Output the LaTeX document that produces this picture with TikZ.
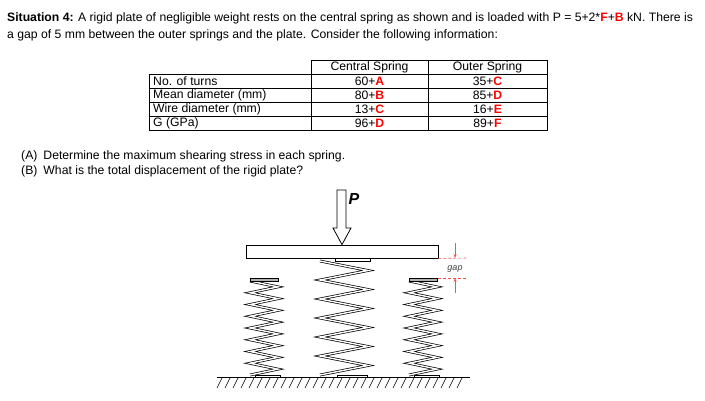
\documentclass[tikz,border=0pt]{standalone}
\usepackage{fontspec}
\setmainfont{Liberation Sans}
\usetikzlibrary{arrows.meta}
\newcommand{\rd}[1]{\textcolor{red}{\textbf{#1}}}
% zigzag spring: xleft, xright, ytop, ybottom, coils
\newcommand{\coil}[5]{%
  \pgfmathsetmacro{\dy}{(#4-#3)/(2*#5)}
  \draw[double, double distance=1.4pt, line width=0.7pt] (#1,#3)
    \foreach \k in {1,...,#5}{ -- (#2,{#3+\dy*(2*\k-1)}) -- (#1,{#3+\dy*2*\k}) };
}
\begin{document}
\begin{tikzpicture}[x=1pt, y=-1pt, font=\fontsize{12.2}{14}\selectfont,
  cell/.style={anchor=west, inner sep=0pt},
  num/.style={inner sep=0pt},
  gapline/.style={red!70, densely dashed, line width=0.6pt}]
\useasboundingbox (0,0) rectangle (705,400);
% statement
\node[cell] (s1) at (7,18) {\textbf{Situation 4:} A rigid plate of negligible weight rests on the central spring as shown and is loaded with P = 5+2*\rd{F}+\rd{B} kN. There is};
\node[cell] (s2) at (7,35) {a gap of 5 mm between the outer springs and the plate. Consider the following information:};
% table
\draw[line width=0.7pt] (311,60) rectangle (547,74);
\draw[line width=0.7pt] (428,60) -- (428,74);
\foreach \y in {74,88,102,116}
  \draw[line width=0.7pt] (149,\y) rectangle (547,\y+14);
\foreach \x in {311,428}
  \draw[line width=0.7pt] (\x,74) -- (\x,130);
\node[num] (hc) at (369.5,67) {Central Spring};
\node[num] (ho) at (487.5,67) {Outer Spring};
\foreach \y/\lab/\c/\o in {81/No. of turns/60+\rd{A}/35+\rd{C},
    95/Mean diameter (mm)/80+\rd{B}/85+\rd{D},
    109/Wire diameter (mm)/13+\rd{C}/16+\rd{E},
    123/G (GPa)/96+\rd{D}/89+\rd{F}}{
  \node[cell] at (153,\y) {\lab};
  \node[num] at (369.5,\y) {\c};
  \node[num] at (487.5,\y) {\o};
}
% questions
\node[cell] (qa) at (21,156) {(A)\hspace{6pt}Determine the maximum shearing stress in each spring.};
\node[cell] (qb) at (21,171) {(B)\hspace{6pt}What is the total displacement of the rigid plate?};
% ground
\draw[line width=0.9pt] (217,377) -- (470,377);
\foreach \x in {222,230,...,466}
  \draw[line width=0.6pt] (\x,378) -- (\x-5,388);
% springs
\coil{320}{368}{261}{375}{6}
\coil{250}{278}{281}{375}{8}
\coil{409}{437}{281}{375}{8}
\foreach \x/\w in {250/28,409/28}
  \fill[gray!60, draw=black, line width=0.5pt] (\x,278.5) rectangle +(\w,2.5);
\draw[line width=0.5pt] (335,258) rectangle (370,261);
\foreach \x/\w in {337/30,255/25,414/25}
  \draw[line width=0.5pt] (\x,375) rectangle +(\w,2);
% plate and load
\node[draw, line width=0.9pt, fill=white, minimum width=192pt, minimum height=13pt, inner sep=0pt] (plate) at (342,251.5) {};
\draw[line width=0.8pt] (337,190) -- (346,190) -- (346,228) -- (351,228) -- (plate.north) -- (333,228) -- (337,228) -- cycle;
\node[font=\fontsize{16}{18}\selectfont\bfseries\itshape, inner sep=0pt] (P) at (354,199) {P};
% gap
\draw[gapline] (plate.south east) -- (467,258);
\draw[gapline] (438,278) -- (467,278);
\draw[red!70, line width=0.6pt, -{Stealth[length=4pt,width=3pt]}] (455,243) -- (455,258);
\draw[red!70, line width=0.6pt, -{Stealth[length=4pt,width=3pt]}] (455,293) -- (455,278);
\node[font=\fontsize{9}{10}\selectfont\itshape, text=black!75, inner sep=0pt] (gap) at (455,269) {gap};
\end{tikzpicture}
\end{document}
